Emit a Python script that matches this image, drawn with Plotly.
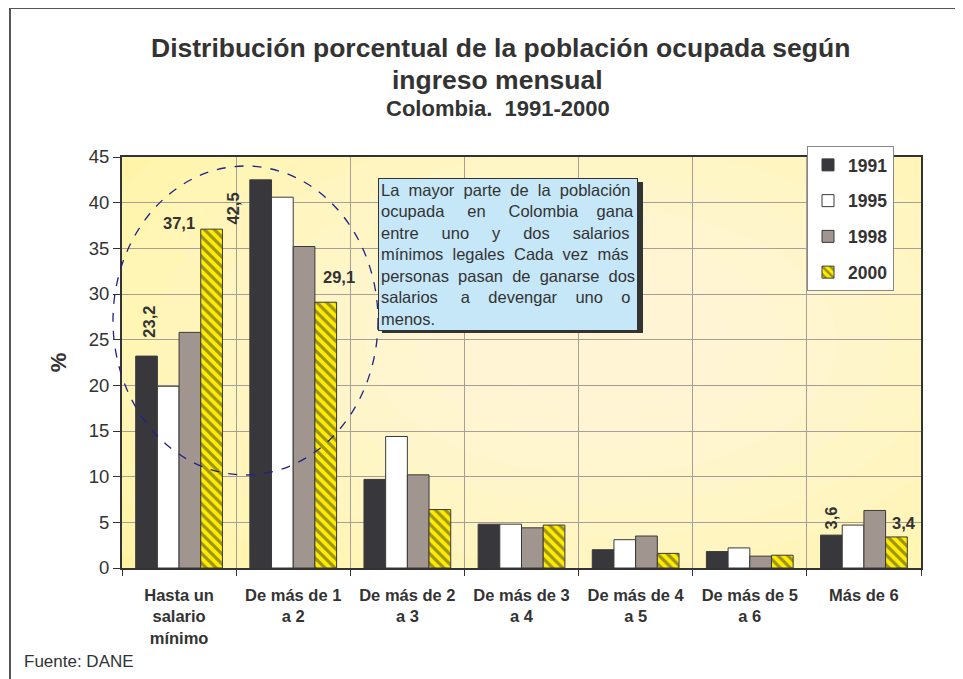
import plotly.graph_objects as go

# ---------------- data ----------------
categories = ["Hasta un<br>salario<br>mínimo", "De más de 1<br>a 2", "De más de 2<br>a 3",
              "De más de 3<br>a 4", "De más de 4<br>a 5", "De más de 5<br>a 6", "Más de 6"]
years = ["1991", "1995", "1998", "2000"]
v1991 = [23.2, 42.5, 9.7, 4.8, 2.0, 1.8, 3.6]
v1995 = [19.9, 40.6, 14.4, 4.8, 3.1, 2.2, 4.7]
v1998 = [25.8, 35.2, 10.2, 4.4, 3.5, 1.3, 6.3]
v2000 = [37.1, 29.1, 6.4, 4.7, 1.6, 1.4, 3.4]
y_ticks = [0, 5, 10, 15, 20, 25, 30, 35, 40, 45]
# labelled values: (category index, series index, text, angle, dx, dy)
value_labels = [(0, 0, "23,2", -90, 3, 34), (0, 3, "37,1", 0, -33, 6),
                (1, 0, "42,5", -90, -28, -29), (1, 3, "29,1", 0, 13, 25),
                (6, 0, "3,6", -90, 0, 17), (6, 3, "3,4", 0, 8, 14)]
NB = "\u00a0"
note_lines = [
    "La  mayor  parte  de  la  población",
    "ocupada     en     Colombia    gana",
    "entre     uno     y     dos     salarios",
    "mínimos  legales  Cada  vez  más",
    "personas  pasan  de  ganarse  dos",
    "salarios     a    devengar    uno    o",
    "menos.",
]
note = "<br>".join(l.replace(" ", NB) for l in note_lines)

series = [v1991, v1995, v1998, v2000]
colors = ["#38373C", "#FFFFFF", "#A1958F", "#FFEC00"]

# ---------------- layout geometry (page px; body has 8px margin) ----------------
OFF = 8
W, H = 963 - OFF, 679 - OFF
ML, MT = 122 - OFF, 157 - OFF
PW, PH = 921 - 122, 568 - 157
MR, MB = W - ML - PW, H - MT - PH
BARGAP = 0.24
FONT = "Liberation Sans, Arial, sans-serif"
TXT = "#333333"


def px(xp):
    return (xp - OFF - ML) / PW


def py(yp):
    return (MT + PH - (yp - OFF)) / PH


fig = go.Figure()
for i, (name, vals, col) in enumerate(zip(years, series, colors)):
    marker = dict(color=col, line=dict(color="#3A3A3A", width=1))
    if name == "2000":
        marker["pattern"] = dict(shape="\\", fgcolor="#3A3A3A", bgcolor=col,
                                 size=7, solidity=0.45, fillmode="overlay")
    fig.add_trace(go.Bar(x=categories, y=vals, name=name, marker=marker,
                         legendgroup=name))

# background gradient (light centre)
for k in range(10):
    rx = 0.75 - k * 0.065
    ry = 0.85 - k * 0.075
    cx, cy = 0.6, 0.55
    fig.add_shape(type="circle", xref="paper", yref="paper", layer="below",
                  x0=cx - rx, x1=cx + rx, y0=cy - ry, y1=cy + ry,
                  fillcolor="rgba(255,255,255,0.085)", line=dict(width=0))

annotations = []
cat_px = PW / len(categories)
bar_px = cat_px * (1 - BARGAP) / len(years)
for ci, si, t, ang, dx, dy in value_labels:
    annotations.append(dict(x=categories[ci], y=series[si][ci], xref="x", yref="y",
                            text="<b>%s</b>" % t, showarrow=False, textangle=ang,
                            xanchor="center", yanchor="middle",
                            xshift=(si - 1.5) * bar_px + dx, yshift=dy,
                            font=dict(family=FONT, size=16.5, color=TXT)))

# titles
annotations += [
    dict(x=px(500), y=py(48), xref="paper", yref="paper", showarrow=False,
         text="<b>Distribución porcentual de la población ocupada según</b>",
         font=dict(family=FONT, size=26.5, color=TXT), yanchor="middle"),
    dict(x=px(497), y=py(80), xref="paper", yref="paper", showarrow=False,
         text="<b>ingreso mensual</b>",
         font=dict(family=FONT, size=26.5, color=TXT), yanchor="middle"),
    dict(x=px(498), y=py(108), xref="paper", yref="paper", showarrow=False,
         text="<b>Colombia.  1991-2000</b>",
         font=dict(family=FONT, size=22, color=TXT), yanchor="middle"),
    dict(x=px(22), y=py(661), xref="paper", yref="paper", showarrow=False,
         text="Fuente: DANE", xanchor="left", yanchor="middle",
         font=dict(family=FONT, size=17, color=TXT)),
    dict(x=px(378), y=py(178), xref="paper", yref="paper", showarrow=False,
         text=note, xanchor="left", yanchor="top", align="left", valign="top",
         width=254, bgcolor="#C6E7F8", bordercolor="#333333", borderwidth=1,
         borderpad=2, font=dict(family=FONT, size=16.5, color=TXT)),
]

shapes = [
    # outer frame
    dict(type="line", xref="paper", yref="paper", x0=px(10), x1=px(10),
         y0=py(8), y1=py(700), line=dict(color="#555555", width=2)),
    dict(type="line", xref="paper", yref="paper", x0=px(10), x1=px(980),
         y0=py(8), y1=py(8), line=dict(color="#555555", width=2)),
    # shadows
    dict(type="rect", xref="paper", yref="paper", x0=px(382), x1=px(643),
         y0=py(182), y1=py(333), fillcolor="#333333", line=dict(width=0)),
    dict(type="rect", xref="paper", yref="paper", x0=px(811), x1=px(892),
         y0=py(150), y1=py(291), fillcolor="#333333", line=dict(width=0)),
    # dashed ellipse
    dict(type="circle", xref="paper", yref="paper", x0=px(113), x1=px(378),
         y0=py(475), y1=py(166), line=dict(color="#22228A", width=1.3, dash="dash")),
]
for s in shapes:
    fig.add_shape(**s)

fig.update_layout(
    width=W, height=H, margin=dict(l=ML, r=MR, t=MT, b=MB),
    paper_bgcolor="white", plot_bgcolor="#FFF3A0",
    barmode="group", bargap=BARGAP, bargroupgap=0,
    font=dict(family=FONT, color=TXT),
    showlegend=True,
    legend=dict(x=px(807), y=py(146), xanchor="left", yanchor="top",
                bgcolor="white", bordercolor="#888888", borderwidth=1,
                font=dict(family=FONT, size=17.5, color=TXT, weight="bold"),
                tracegroupgap=10, itemwidth=30),
    annotations=annotations,
    xaxis=dict(tickson="boundaries", showgrid=True, gridcolor="#A79E98", gridwidth=1,
               showline=True, linecolor="#333333", linewidth=2, mirror=True,
               ticks="outside", ticklen=6, tickcolor="#333333",
               ticklabelstandoff=11,
               tickfont=dict(family=FONT, size=16.5, color=TXT, weight="bold")),
    yaxis=dict(range=[0, 45], tickvals=y_ticks, showgrid=True, gridcolor="#A79E98",
               gridwidth=1, showline=True, linecolor="#333333", linewidth=2,
               mirror=True, ticks="outside", ticklen=7, tickcolor="#333333",
               zeroline=False,
               tickfont=dict(family=FONT, size=18.5, color=TXT),
               title=dict(text="<b>%</b>", standoff=16,
                          font=dict(family=FONT, size=22, color=TXT))),
)

fig.write_html("out.html")
